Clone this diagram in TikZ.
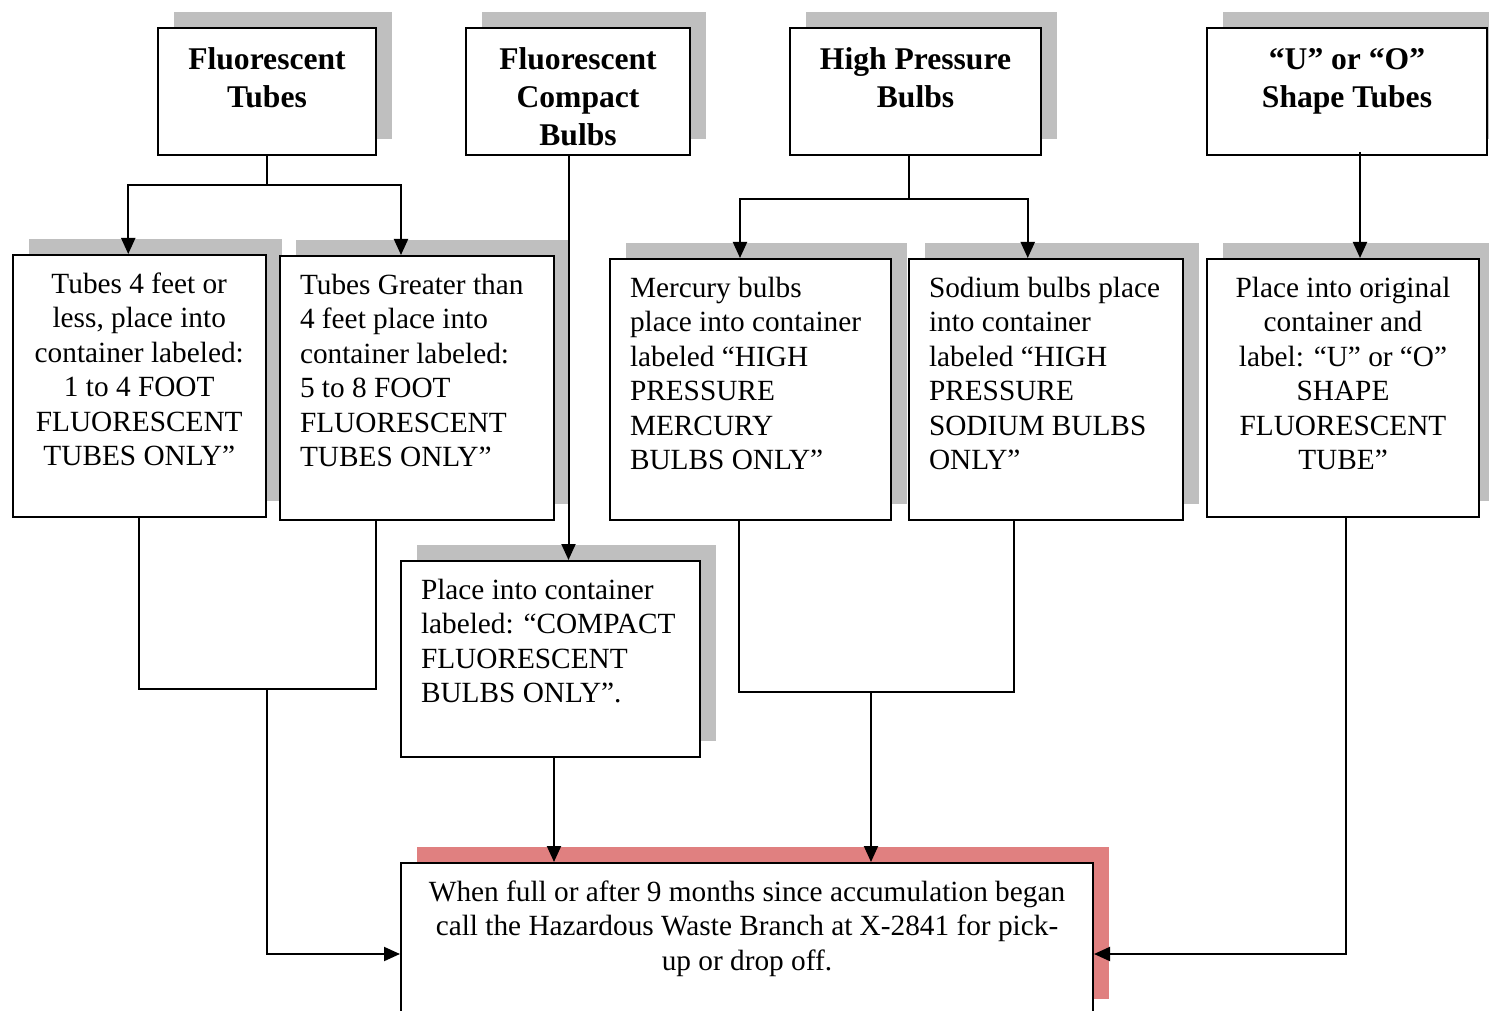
\documentclass[tikz,border=0pt]{standalone}
\usepackage{fontspec}
\setmainfont{Liberation Serif}
\usetikzlibrary{arrows.meta,shadows}

\definecolor{shadowGray}{RGB}{191,191,191}
\definecolor{shadowPink}{RGB}{224,128,128}

\newcommand{\lineWidth}{2pt}
\newcommand{\shadowShift}{16pt}
\newcommand{\headFont}{\fontsize{31.6pt}{38pt}\selectfont\bfseries}
\newcommand{\binFont}{\fontsize{29.3pt}{34.5pt}\selectfont}
\newcommand{\boxLines}[4]{\parbox[t][#2][t]{#1}{#3\strut #4}}

\tikzset{
  basebox/.style={draw, line width=\lineWidth, fill=white, anchor=north west, inner xsep=20pt},
  grayshadow/.style={drop shadow={shadow xshift=\shadowShift, shadow yshift=\shadowShift, fill=shadowGray, opacity=1}},
  pinkshadow/.style={drop shadow={shadow xshift=\shadowShift, shadow yshift=\shadowShift, fill=shadowPink, opacity=1}},
  headbox/.style={basebox, grayshadow, inner ysep=15pt, font=\headFont},
  binbox/.style={basebox, grayshadow, inner ysep=14pt, font=\binFont},
  pickbox/.style={basebox, pinkshadow, inner ysep=14pt, font=\binFont},
  flow/.style={line width=\lineWidth, black},
  arrow/.style={flow, -{Triangle[length=16pt, width=14pt]}}
}

\begin{document}
\begin{tikzpicture}[x=1pt, y=-1pt]
        \useasboundingbox (0,0) rectangle (1489,1011);
        \clip (0,0) rectangle (1489,1011);

        % Header boxes
        \node[headbox] (tubes) at (157,27) {\boxLines{178pt}{97pt}{\centering}{Fluorescent\\ Tubes}};
        \node[headbox] (compact) at (465,27) {\boxLines{184pt}{97pt}{\centering}{Fluorescent\\ Compact\\ Bulbs}};
        \node[headbox] (pressure) at (789,27) {\boxLines{211pt}{97pt}{\centering}{High Pressure\\ Bulbs}};
        \node[headbox] (uoShape) at (1206,27) {\boxLines{240pt}{97pt}{\centering}{“U” or “O”\\ Shape Tubes}};

        % Container boxes
        \node[binbox] (lessFour) at (11.5,254) {\boxLines{213.5pt}{233.5pt}{\centering}{Tubes 4 feet or\\ less, place into\\ container labeled:\\ 1 to 4 FOOT\\ FLUORESCENT\\ TUBES ONLY”}};
        \node[binbox] (moreFour) at (279,255) {\boxLines{234pt}{236pt}{\raggedright}{Tubes Greater than\\ 4 feet place into\\ container labeled:\\ 5 to 8 FOOT\\ FLUORESCENT\\ TUBES ONLY”}};
        \node[binbox] (mercury) at (609,258) {\boxLines{241pt}{233pt}{\raggedright}{Mercury bulbs\\ place into container\\ labeled “HIGH\\ PRESSURE\\ MERCURY\\ BULBS ONLY”}};
        \node[binbox] (sodium) at (908,258) {\boxLines{233.5pt}{233pt}{\raggedright}{Sodium bulbs place\\ into container\\ labeled “HIGH\\ PRESSURE\\ SODIUM BULBS\\ ONLY”}};
        \node[binbox] (uoBin) at (1206,258) {\boxLines{232pt}{229.5pt}{\centering}{Place into original\\ container and\\ label: “U” or “O”\\ SHAPE\\ FLUORESCENT\\ TUBE”}};
        \node[binbox] (compactBin) at (400,560) {\boxLines{259pt}{168pt}{\raggedright}{Place into container\\ labeled: “COMPACT\\ FLUORESCENT\\ BULBS ONLY”.}};

        % Pick-up box
        \node[pickbox] (pickup) at (400,862) {\boxLines{652pt}{124pt}{\centering}{When full or after 9 months since accumulation began\\ call the Hazardous Waste Branch at X-2841 for pick-\\ up or drop off.}};

        % Draw tubes split
        \coordinate (tubesFork) at ([yshift=-29.5pt]tubes.south);
        \draw[flow] (tubes.south) -- (tubesFork);
        \draw[arrow] (tubesFork) -| ([xshift=-11pt]lessFour.north);
        \draw[arrow] (tubesFork) -| ([xshift=-16pt]moreFour.north);

        % Draw compact drop
        \coordinate (compactDrop) at ([xshift=-9.5pt]compact.south);
        \draw[arrow] (compactDrop) -- (compactDrop |- compactBin.north);

        % Draw pressure split
        \coordinate (pressureTop) at ([xshift=-6.5pt]pressure.south);
        \coordinate (pressureFork) at ([yshift=-43pt]pressureTop);
        \draw[flow] (pressureTop) -- (pressureFork);
        \draw[arrow] (pressureFork) -| ([xshift=-10.5pt]mercury.north);
        \draw[arrow] (pressureFork) -| ([xshift=-18pt]sodium.north);

        % Draw shape drop
        \coordinate (uoDrop) at ([xshift=13pt, yshift=4pt]uoShape.south);
        \draw[arrow] (uoDrop) -- (uoDrop |- uoBin.north);

        % Draw tubes join
        \coordinate (tubesJoin) at ([yshift=-171pt]lessFour.south);
        \coordinate (tubesDrop) at (tubes.south |- tubesJoin);
        \draw[flow] (lessFour.south) -- (tubesJoin) -| ([xshift=-41pt]moreFour.south);
        \draw[arrow] (tubesDrop) |- ([yshift=-15pt]pickup.west);

        % Draw compact join
        \coordinate (compactOut) at ([xshift=3.5pt]compactBin.south);
        \draw[arrow] (compactOut) -- (compactOut |- pickup.north);

        % Draw pressure join
        \coordinate (pressureOut) at ([xshift=-12pt]mercury.south);
        \coordinate (pressureJoin) at ([yshift=-171pt]pressureOut);
        \coordinate (pressureDrop) at ([xshift=124pt]pickup.north |- pressureJoin);
        \draw[flow] (pressureOut) -- (pressureJoin) -| ([xshift=-32pt]sodium.south);
        \draw[arrow] (pressureDrop) -- (pressureDrop |- pickup.north);

        % Draw shape join
        \coordinate (uoOut) at ([xshift=3pt]uoBin.south);
        \draw[arrow] (uoOut) |- ([yshift=-15pt]pickup.east);
\end{tikzpicture}
\end{document}
